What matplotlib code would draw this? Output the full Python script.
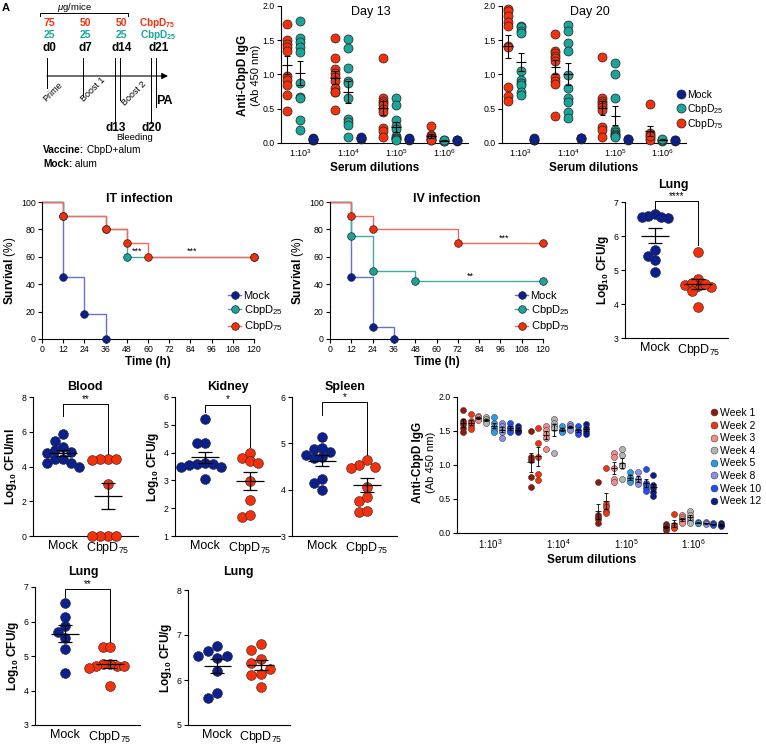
import numpy as np
import matplotlib
matplotlib.use('Agg')
import matplotlib.pyplot as plt
from matplotlib.lines import Line2D

plt.rcParams.update({
    'font.family': ['Liberation Sans', 'DejaVu Sans'],
    'mathtext.fontset': 'custom',
    'mathtext.rm': 'Liberation Sans',
    'mathtext.bf': 'Liberation Sans:bold',
    'mathtext.it': 'Liberation Sans:italic',
    'axes.linewidth': 0.8,
})

# colours
MOCK, C25, C75 = '#0c1f8e', '#19a59a', '#f5300b'
MOCK_L, C25_L, C75_L = '#6373d2', '#45aaa0', '#f36b5b'

# ---- data ----
dil_labels = ['1:10$^3$', '1:10$^4$', '1:10$^5$', '1:10$^6$']

d13_c75 = [[1.74, 1.50, 1.45, 1.40, 1.35, 0.98, 0.92, 0.84, 0.70, 0.46],
           [1.54, 1.24, 1.08, 1.02, 0.97, 0.90, 0.80, 0.75, 0.74, 0.48],
           [1.24, 0.66, 0.62, 0.58, 0.55, 0.50, 0.45, 0.22, 0.18, 0.09],
           [0.25, 0.12, 0.10, 0.08, 0.06, 0.05, 0.05]]
d13_c25 = [[1.78, 1.54, 1.48, 1.40, 1.33, 0.87, 0.67, 0.66, 0.33, 0.19],
           [1.52, 1.39, 1.10, 0.90, 0.87, 0.65, 0.35, 0.30, 0.26, 0.09],
           [0.65, 0.56, 0.34, 0.25, 0.20, 0.10, 0.08, 0.07, 0.06, 0.05],
           [0.04, 0.03, 0.03, 0.04]]
d13_mock = [[0.05, 0.06, 0.07, 0.05, 0.06],
            [0.07, 0.08, 0.06, 0.07, 0.09],
            [0.06, 0.05, 0.06, 0.07],
            [0.04, 0.03, 0.05, 0.04]]

d20_c75 = [[1.95, 1.92, 1.85, 1.76, 1.71, 1.41, 1.40, 0.82, 0.68, 0.62],
           [1.59, 1.35, 1.32, 1.27, 1.24, 1.20, 0.96, 0.90, 0.86, 0.40],
           [1.25, 0.65, 0.62, 0.58, 0.55, 0.53, 0.48, 0.23, 0.19, 0.09],
           [0.57, 0.14, 0.11, 0.08, 0.05, 0.10]]
d20_c25 = [[1.71, 1.70, 1.64, 1.61, 1.05, 0.92, 0.88, 0.85, 0.75, 0.70],
           [1.72, 1.64, 1.46, 1.34, 0.99, 0.80, 0.65, 0.60, 0.45, 0.37],
           [1.17, 1.00, 0.65, 0.19, 0.16, 0.13, 0.11, 0.10, 0.09],
           [0.05, 0.03, 0.04, 0.06]]
d20_mock = [[0.05, 0.06, 0.04, 0.07],
            [0.07, 0.06, 0.08, 0.07],
            [0.06, 0.05, 0.06],
            [0.04, 0.03, 0.04]]

surv_time = [0, 12, 24, 36, 48, 60, 72, 84, 96, 108, 120]
it_mock_t, it_mock = [0, 12, 24, 36], [100, 45, 18, 0]
it_c25_t, it_c25 = [0, 12, 36, 48, 120], [100, 90, 80, 60, 60]
it_c75_t, it_c75 = [0, 12, 36, 48, 60, 120], [100, 90, 80, 70, 60, 60]
iv_mock_t, iv_mock = [0, 12, 24, 36], [100, 45, 9, 0]
iv_c25_t, iv_c25 = [0, 12, 24, 48, 120], [100, 75, 50, 42, 42]
iv_c75_t, iv_c75 = [0, 12, 24, 72, 120], [100, 90, 80, 70, 70]

lung1_mock = [6.52, 6.59, 6.66, 6.56, 6.56, 5.60, 5.42, 5.28, 4.93]
lung1_c75 = [5.54, 4.73, 4.56, 4.53, 4.63, 4.37, 3.90, 4.50, 4.60]
blood_mock = [5.87, 5.49, 5.15, 4.97, 4.81, 4.80, 4.43, 4.43, 4.23, 4.23, 4.00]
blood_c75 = [4.45, 4.45, 4.45, 4.35, 3.02, 0.0, 0.0, 0.0, 0.0]
kidney_mock = [5.21, 4.36, 4.36, 3.63, 3.60, 3.60, 3.55, 3.06, 3.50, 3.48]
kidney_c75 = [4.00, 3.82, 3.70, 3.63, 2.98, 2.28, 1.68, 1.77]
spleen_mock = [5.13, 4.87, 4.82, 4.89, 4.74, 4.69, 4.70, 4.23, 4.15, 4.00]
spleen_c75 = [4.64, 4.53, 4.47, 4.50, 4.05, 3.76, 3.52, 3.54, 3.85]
lung2_mock = [6.53, 6.12, 5.88, 5.71, 5.52, 5.20, 4.52]
lung2_c75 = [5.25, 5.27, 4.70, 4.76, 4.76, 4.70, 4.65, 4.13, 4.70]
lung3_mock = [6.54, 6.65, 6.75, 6.54, 6.50, 6.19, 5.72, 5.59]
lung3_c75 = [6.80, 6.67, 6.46, 6.37, 6.24, 6.11, 6.13, 5.84]

week_names = ['Week 1', 'Week 2', 'Week 3', 'Week 4', 'Week 5', 'Week 8', 'Week 10', 'Week 12']
week_colors = ['#8e1a0e', '#f2330e', '#f28b86', '#b4b4b4', '#2a9be6', '#8c8ee6', '#1f4ff0', '#0a1c8c']
wk1 = [[1.81, 1.65, 1.60, 1.55, 1.48], [1.50, 1.12, 1.08, 0.82, 0.67], [0.75, 0.27, 0.24, 0.20, 0.15], [0.13, 0.10, 0.07, 0.05]]
wk2 = [[1.75, 1.65, 1.62, 1.57, 1.53], [1.54, 1.33, 1.12, 0.87, 0.78], [0.95, 0.42, 0.38, 0.32, 0.30], [0.28, 0.12, 0.09, 0.07]]
wk3 = [[1.72, 1.70, 1.68, 1.66], [1.58, 1.52, 1.45, 1.40, 1.24], [1.17, 1.12, 0.95, 0.80, 0.75], [0.27, 0.24, 0.20, 0.17, 0.14]]
wk4 = [[1.70, 1.68, 1.65, 1.62], [1.68, 1.62, 1.58, 1.55, 1.17], [1.24, 1.15, 1.00, 0.98, 0.80], [0.32, 0.27, 0.22, 0.18, 0.15]]
wk5 = [[1.70, 1.62, 1.56, 1.52, 1.48], [1.58, 1.52, 1.50, 1.48], [0.90, 0.83, 0.78, 0.75], [0.16, 0.15, 0.14]]
wk8 = [[1.62, 1.57, 1.53, 1.48, 1.40], [1.60, 1.57, 1.55, 1.52], [0.90, 0.80, 0.75, 0.72], [0.16, 0.14, 0.13]]
wk10 = [[1.62, 1.56, 1.52, 1.48], [1.58, 1.52, 1.48, 1.46], [0.94, 0.74, 0.70, 0.66, 0.62], [0.14, 0.13, 0.12]]
wk12 = [[1.57, 1.53, 1.50, 1.48], [1.60, 1.55, 1.50, 1.46], [0.85, 0.70, 0.66, 0.60, 0.54], [0.14, 0.12, 0.10]]
weeks = [wk1, wk2, wk3, wk4, wk5, wk8, wk10, wk12]

# timeline
days = [0, 7, 14, 21]
dose75 = ['75', '50', '50']
dose25 = ['25', '25', '25']
bleed_days = [13, 20]

# ---- layout helpers (pixel boxes) ----
W, H = 766, 747
fig = plt.figure(figsize=(W / 100, H / 100), dpi=100)


def add_ax(l, t, r, b):
    return fig.add_axes([l / W, 1 - b / H, (r - l) / W, (b - t) / H])


def style(ax, xticks=True):
    for s in ['top', 'right']:
        ax.spines[s].set_visible(False)
    ax.tick_params(width=0.8, length=3, labelsize=6.3, pad=1.5)
    if not xticks:
        ax.tick_params(axis='x', length=0, pad=3)


def mean_sem(ax, x, vals, half, cap, lw=0.9):
    m = np.mean(vals)
    se = np.std(vals, ddof=1) / np.sqrt(len(vals))
    ax.hlines(m, x - half, x + half, colors='k', lw=lw, zorder=4)
    ax.vlines(x, m - se, m + se, colors='k', lw=lw, zorder=4)
    ax.hlines([m - se, m + se], x - cap, x + cap, colors='k', lw=lw, zorder=4)


def swarm(vals, center, xpx, ypx, d=6.5):
    # simple beeswarm: offsets in pixels, d = min centre distance
    vals = np.asarray(vals, float)
    order = np.argsort(-vals, kind='stable')
    steps = [0, -1, 1, -2, 2, -3, 3, -4, 4]
    placed, xs = [], np.zeros(len(vals))
    for i in order:
        yi = vals[i] * ypx
        for s in steps:
            xi = s * d
            if all((xi - px) ** 2 + (yi - py) ** 2 >= d ** 2 for px, py in placed):
                break
        placed.append((xi, yi))
        xs[i] = center + xi / xpx
    return xs


def dotplot(ax, mock, c75, ylim, yticks, ypx, title, tpos, ylabel, sig=None, d=6.5):
    for i, (vals, col) in enumerate([(mock, MOCK), (c75, C75)]):
        xs = swarm(vals, i, 44, ypx, d)
        ax.scatter(xs, vals, s=50, color=col, edgecolors='#222222', linewidths=0.4,
                   zorder=3, clip_on=False)
        mean_sem(ax, i, vals, 0.32, 0.16)
    ax.set_xlim(-0.68, 1.68)
    ax.set_ylim(*ylim)
    ax.set_yticks(yticks)
    ax.set_xticks([0, 1])
    style(ax, xticks=False)
    ax.set_xticklabels(['Mock', 'CbpD$_{75}$'], fontsize=9)
    fig.text(tpos[0] / W, 1 - tpos[1] / H, title, fontsize=9, fontweight='bold',
             ha='center', va='center')
    if ylabel:
        ax.set_ylabel(ylabel, fontsize=8.5, fontweight='bold', labelpad=2)
    if sig is not None:
        ytop, yl, yr, lab = sig
        ax.plot([0, 0, 1, 1], [yl, ytop, ytop, yr], color='k', lw=0.7, clip_on=False,
                zorder=2)
        ax.text(0.5, ytop, lab, ha='center', va='bottom', fontsize=7)


# ---- Panel A: timeline ----
axA = add_ax(0, 0, 200, 170)
axA.set_xlim(0, 200)
axA.set_ylim(170, 0)
axA.axis('off')


def dx(d):
    return 47 + d * 5.2


axA.text(6, 8, 'A', fontsize=8, fontweight='bold', ha='center', va='center')
axA.text(74, 7, '$\\mu$g/mice', fontsize=6.8, ha='center', va='center')
axA.plot([40, 40, 128, 128], [16, 13, 13, 16], color='k', lw=0.7)
for d, a, b in zip(days[:3], dose75, dose25):
    axA.text(dx(d) + 2, 23, a, color=C75, fontsize=7.5, fontweight='bold', ha='center', va='center')
    axA.text(dx(d) + 2, 35.5, b, color=C25, fontsize=7.5, fontweight='bold', ha='center', va='center')
axA.text(dx(21) + 1, 22.5, 'CbpD$_{\\mathbf{75}}$', color=C75, fontsize=7.2, fontweight='bold',
         ha='center', va='center')
axA.text(dx(21) + 2, 35.5, 'CbpD$_{\\mathbf{25}}$', color=C25, fontsize=7.2, fontweight='bold',
         ha='center', va='center')
for d in days:
    axA.text(dx(d) + 2, 48, f'd{d}', fontsize=8.5, fontweight='bold', ha='center', va='center')
for d, yb in zip(days, [88, 96, 100, 107]):
    axA.plot([dx(d), dx(d)], [58, yb], color='k', lw=0.7)
for d in bleed_days:
    axA.plot([dx(d), dx(d)], [58, 123], color='k', lw=0.7)
    axA.text(dx(d) + 1, 128, f'd{d}', fontsize=8.5, fontweight='bold', ha='center', va='center')
axA.annotate('', xy=(168, 76), xytext=(dx(0), 76),
             arrowprops=dict(arrowstyle='-|>', lw=0.8, color='k', mutation_scale=9,
                             shrinkA=0, shrinkB=0))
for lab, (x, y) in zip(['Prime', 'Boost 1', 'Boost 2'], [(53, 92), (93, 89), (134, 93)]):
    axA.text(x, y, lab, rotation=45, fontsize=6.5, ha='center', va='center')
axA.text(164, 101, 'PA', fontsize=9, fontweight='bold', ha='center', va='center')
axA.text(135, 138, 'Bleeding', fontsize=6.8, ha='center', va='center')
for y, bold, rest in [(150, 'Vaccine:', ' CbpD+alum'), (164, 'Mock:', ' alum')]:
    t = axA.text(43, y, bold, fontsize=7.3, fontweight='bold', ha='left', va='center')
    axA.annotate(rest, xy=(1, 0.5), xycoords=t, fontsize=7.3, ha='left', va='center')


# ---- Day 13 / Day 20 ----
def day_panel(ax, mock, c25, c75, title):
    for gi in range(4):
        for off, vals, col in [(-0.27, c75[gi], C75), (0.0, c25[gi], C25), (0.27, mock[gi], MOCK)]:
            x = np.full(len(vals), gi + off)
            ax.scatter(x, vals, s=42, color=col, edgecolors='#222222', linewidths=0.5,
                       zorder=3, clip_on=False)
            if col != MOCK:
                mean_sem(ax, gi + off, vals, 0.1, 0.06, lw=0.8)
    ax.set_xlim(-0.4, 3.5)
    ax.set_ylim(0, 2)
    ax.set_yticks([0, 0.5, 1.0, 1.5, 2.0])
    ax.set_yticklabels(['0.0', '0.5', '1.0', '1.5', '2.0'])
    ax.set_xticks(range(4))
    style(ax, xticks=False)
    ax.set_xticklabels(dil_labels, fontsize=6.5)
    ax.set_xlabel('Serum dilutions', fontsize=8.5, fontweight='bold', labelpad=2)
    ax.text(0.48, 1.0, title, transform=ax.transAxes, ha='center', va='top', fontsize=9)


ax13 = add_ax(281, 6, 468, 143)
day_panel(ax13, d13_mock, d13_c25, d13_c75, 'Day 13')
fig.text(243 / W, 1 - 75 / H, 'Anti-CbpD IgG', rotation=90, fontsize=8.5, fontweight='bold',
         ha='center', va='center')
fig.text(256 / W, 1 - 75 / H, '(Ab 450 nm)', rotation=90, fontsize=8, ha='center', va='center')

ax20 = add_ax(502, 6, 686, 143)
day_panel(ax20, d20_mock, d20_c25, d20_c75, 'Day 20')
h = [Line2D([], [], marker='o', ls='', mfc=c, mec='#222222', mew=0.5, ms=6.5, label=l)
     for c, l in [(MOCK, 'Mock'), (C25, 'CbpD$_{25}$'), (C75, 'CbpD$_{75}$')]]
fig.legend(handles=h, loc='upper left', bbox_to_anchor=(676 / W, 1 - 90 / H), frameon=False,
           fontsize=7.5, handletextpad=0.1, labelspacing=0.15, borderpad=0, handlelength=1,
           borderaxespad=0)


# ---- survival ----
def surv_panel(ax, curves, title, title_x, sigs, leg_left):
    for t, s, col, lcol in curves:
        ax.step(t, s, where='post', color=lcol, lw=1, zorder=2, clip_on=False)
        ax.plot(t[1:], s[1:], 'o', ms=5.5, mfc=col, mec='#222222', mew=0.5, zorder=3,
                clip_on=False)
    ax.set_xlim(0, 120)
    ax.set_ylim(0, 100)
    ax.set_xticks(surv_time)
    ax.set_yticks(range(0, 101, 20))
    style(ax)
    ax.set_xlabel('Time (h)', fontsize=8.5, fontweight='bold', labelpad=1)
    ax.set_ylabel('$\\mathbf{Survival}$ (%)', fontsize=8.5, labelpad=2)
    ax.text(title_x, 102, title, ha='center', va='center', fontsize=9, fontweight='bold')
    for x, y, lab in sigs:
        ax.text(x, y, lab, ha='center', va='bottom', fontsize=6.5)
    hh = [Line2D([], [], color=lc, marker='o', mfc=c, mec='#222222', mew=0.5, ms=5.5, lw=1,
                 label=l) for c, lc, l in [(MOCK, MOCK_L, 'Mock'), (C25, C25_L, 'CbpD$_{25}$'),
                                          (C75, C75_L, 'CbpD$_{75}$')]]
    fig.legend(handles=hh, loc='upper left', bbox_to_anchor=(leg_left / W, 1 - 291 / H),
               frameon=False, fontsize=8, handletextpad=0.2, labelspacing=0.2, borderpad=0,
               handlelength=1.2, borderaxespad=0)


axIT = add_ax(42, 202, 254, 339)
surv_panel(axIT, [(it_mock_t, it_mock, MOCK, MOCK_L), (it_c25_t, it_c25, C25, C25_L),
                  (it_c75_t, it_c75, C75, C75_L)],
           'IT infection', 55, [(54, 60.5, '***'), (85, 60.5, '***')], 228)
axIV = add_ax(330, 202, 543, 339)
surv_panel(axIV, [(iv_mock_t, iv_mock, MOCK, MOCK_L), (iv_c25_t, iv_c25, C25, C25_L),
                  (iv_c75_t, iv_c75, C75, C75_L)],
           'IV infection', 66, [(98, 70.5, '***'), (79, 42.5, '**')], 515)

# ---- CFU dot plots ----
LOG_G = '$\\mathbf{Log_{10}}$ CFU/g'
axL1 = add_ax(625, 202, 728, 338)
dotplot(axL1, lung1_mock, lung1_c75, (3, 7), [3, 4, 5, 6, 7], 34, 'Lung', (673, 185), LOG_G,
        (7.03, 6.75, 5.75, '****'))
axB = add_ax(33, 397, 138, 536)
dotplot(axB, blood_mock, blood_c75, (0, 8), [0, 2, 4, 6, 8], 17.4, 'Blood', (85, 387),
        '$\\mathbf{Log_{10}}$ CFU/ml', (7.57, 6.9, 4.6, '**'), d=8)
axK = add_ax(175, 397, 280, 536)
dotplot(axK, kidney_mock, kidney_c75, (1, 6), [1, 2, 3, 4, 5, 6], 27.8, 'Kidney', (228, 387),
        LOG_G, (5.73, 5.45, 4.2, '*'), d=8)
axS = add_ax(292, 397, 397, 536)
dotplot(axS, spleen_mock, spleen_c75, (3, 6), [3, 4, 5, 6], 46.3, 'Spleen', (345, 387), None,
        (5.9, 5.62, 4.75, '*'), d=8)
axL2 = add_ax(35, 587, 140, 725)
dotplot(axL2, lung2_mock, lung2_c75, (3, 7), [3, 4, 5, 6, 7], 34.5, 'Lung', (83, 572), LOG_G,
        (6.94, 6.7, 5.4, '**'), d=7)
axL3 = add_ax(188, 590, 290, 725)
dotplot(axL3, lung3_mock, lung3_c75, (5, 8), [5, 6, 7, 8], 45, 'Lung', (238, 572), LOG_G,
        d=10)

# ---- weeks panel ----
axW = add_ax(457, 397, 727, 533)
for wi, (wk, col) in enumerate(zip(weeks, week_colors)):
    for gi in range(4):
        x = gi + (wi - 3.5) * 0.116
        vals = wk[gi]
        axW.scatter(np.full(len(vals), x), vals, s=19, color=col, edgecolors='#333333',
                    linewidths=0.35, zorder=3, clip_on=False)
        mean_sem(axW, x, vals, 0.045, 0.03, lw=0.6)
axW.set_xlim(-0.49, 3.49)
axW.set_ylim(0, 2)
axW.set_yticks([0, 0.5, 1.0, 1.5, 2.0])
axW.set_yticklabels(['0.0', '0.5', '1.0', '1.5', '2.0'])
axW.set_xticks(range(4))
style(axW, xticks=False)
axW.set_xticklabels(dil_labels, fontsize=7)
axW.set_xlabel('Serum dilutions', fontsize=8.5, fontweight='bold', labelpad=2)
fig.text(418 / W, 1 - 462 / H, 'Anti-CbpD IgG', rotation=90, fontsize=8.5, fontweight='bold',
         ha='center', va='center')
fig.text(431 / W, 1 - 462 / H, '(Ab 450 nm)', rotation=90, fontsize=8, ha='center', va='center')
hw = [Line2D([], [], marker='o', ls='', mfc=c, mec='#333333', mew=0.35, ms=5, label=l)
      for c, l in zip(week_colors, week_names)]
fig.legend(handles=hw, loc='upper left', bbox_to_anchor=(710 / W, 1 - 408 / H), frameon=False,
           fontsize=7.5, handletextpad=0.2, labelspacing=0.25, borderpad=0, handlelength=0.8,
           borderaxespad=0)

fig.savefig('out.png', dpi=100)
